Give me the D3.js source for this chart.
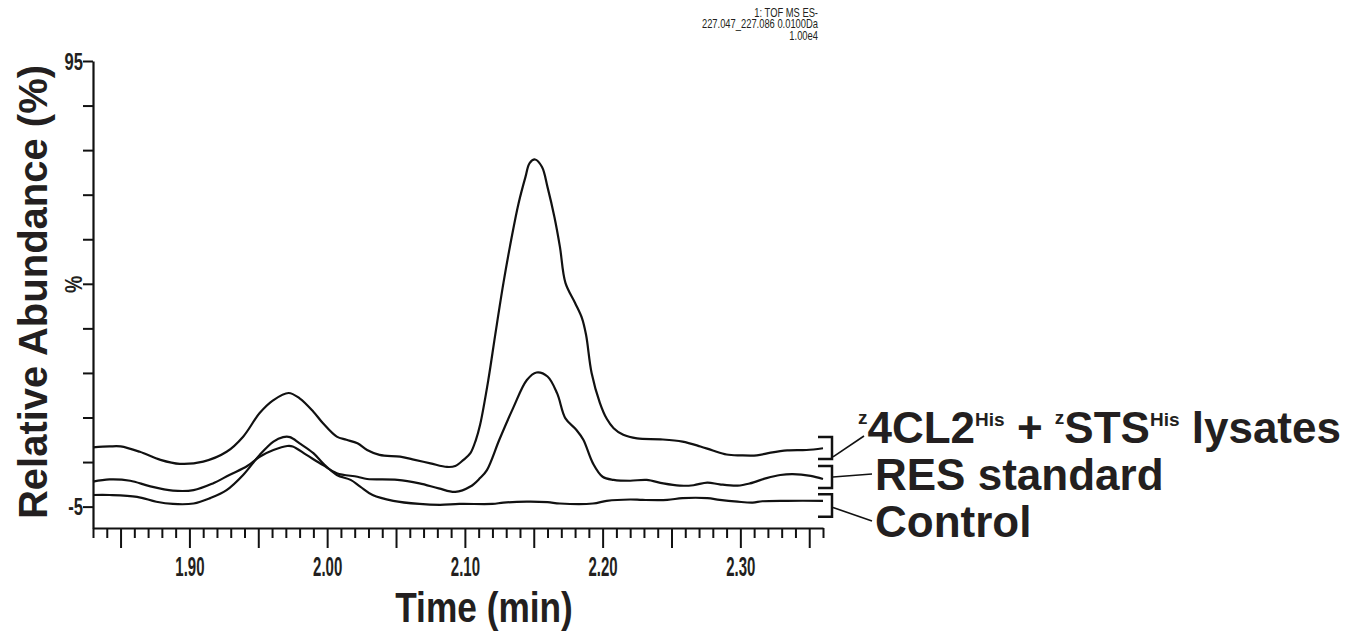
<!DOCTYPE html>
<html>
<head>
<meta charset="utf-8">
<script src="https://cdn.jsdelivr.net/npm/d3@7"></script>
<style>
  body { margin: 0; background: #fff; }
  svg { display: block; }
  text { font-family: "Liberation Sans", Arial, sans-serif; fill: #231f20; }
</style>
</head>
<body>
<svg id="chart"></svg>
<script>
// header printed by the instrument software
const headerLines = ["1: TOF MS ES-", "227.047_227.086 0.0100Da", "1.00e4"];

// axis ticks
const yTickValues = [-5, 5, 15, 25, 35, 45, 55, 65, 75, 85, 95];
const yTickLabels = { "-5": "-5", "45": "%", "95": "95" };
const xLabelTicks = [1.90, 2.00, 2.10, 2.20, 2.30];

// zSTS + z4CL2 lysates trace
const lysatesTime = [1.830,1.842,1.850,1.864,1.879,1.893,1.910,1.927,1.939,1.951,1.961,1.972,1.980,1.990,1.997,2.007,2.014,2.022,2.029,2.038,2.053,2.062,2.075,2.087,2.093,2.099,2.104,2.108,2.111,2.117,2.122,2.128,2.134,2.139,2.144,2.147,2.151,2.156,2.160,2.165,2.169,2.173,2.180,2.185,2.188,2.192,2.198,2.203,2.208,2.215,2.225,2.242,2.258,2.271,2.280,2.290,2.300,2.312,2.322,2.334,2.348,2.360];
const lysatesAbund = [8.3,8.5,8.5,7.3,5.5,4.6,5.1,7.3,10.7,16.0,18.9,20.5,19.3,16.3,13.7,10.7,10.0,9.2,7.7,6.6,6.2,5.6,4.7,3.9,4.1,5.5,7.0,10.0,13.3,23.4,33.5,45.2,55.5,63.1,69.0,72.1,72.9,71.2,66.7,60.0,53.3,45.2,40.7,37.3,33.5,25.0,18.3,14.7,12.6,11.1,10.3,10.1,9.6,8.5,7.6,6.7,6.5,6.5,7.1,7.6,7.7,8.1];

// RES standard trace
const resTime = [1.830,1.842,1.857,1.871,1.888,1.903,1.917,1.929,1.942,1.951,1.961,1.971,1.975,1.985,1.997,2.007,2.022,2.029,2.051,2.067,2.081,2.093,2.104,2.111,2.116,2.125,2.135,2.145,2.152,2.160,2.167,2.173,2.181,2.186,2.193,2.200,2.208,2.220,2.232,2.244,2.256,2.266,2.276,2.285,2.298,2.307,2.319,2.329,2.338,2.351,2.360];
const resAbund = [0.6,1.1,0.8,-0.4,-1.4,-1.3,0.2,2.1,4.1,6.2,7.7,8.6,8.5,6.6,4.3,2.5,1.7,1.2,1.0,0.2,-0.9,-1.7,-0.5,1.4,3.2,10.0,17.1,23.4,25.1,24.2,20.4,14.8,12.2,10.0,4.7,1.7,1.0,0.8,1.0,0.2,-0.3,-0.2,0.4,0.0,-0.3,0.2,1.4,2.1,2.3,1.9,1.2];

// Control trace
const controlTime = [1.830,1.842,1.862,1.876,1.888,1.903,1.915,1.927,1.939,1.951,1.961,1.968,1.973,1.980,1.990,1.997,2.007,2.017,2.024,2.033,2.048,2.067,2.082,2.096,2.120,2.128,2.145,2.160,2.169,2.193,2.203,2.220,2.229,2.247,2.258,2.276,2.285,2.298,2.309,2.316,2.334,2.360];
const controlAbund = [-2.4,-2.4,-2.8,-3.9,-4.4,-4.3,-3.1,-1.3,2.1,6.6,9.6,10.6,10.6,9.2,7.0,4.7,2.1,1.0,-0.5,-2.4,-3.7,-4.4,-4.6,-4.4,-4.4,-4.1,-3.9,-4.0,-4.3,-4.3,-3.7,-3.4,-3.5,-3.5,-3.1,-3.1,-3.5,-3.9,-4.1,-3.8,-3.7,-3.7];

// bracket extent of each trace label, in abundance units (top, bottom)
const bracketRanges = [[10.6, 5.7], [4.1, -0.8], [-2.2, -7.3]];

const width = 1351, height = 637;
const svg = d3.select("#chart").attr("width", width).attr("height", height);

const x = d3.scaleLinear().domain([1.83, 2.36]).range([93, 823]);
const y = d3.scaleLinear().domain([-9.8, 95]).range([528, 61]);

// x axis: ticks every 0.01, longer every 0.05, labels every 0.1
const xTicks = d3.range(183, 237).map(i => i / 100);
const xAxis = svg.append("g")
  .attr("transform", `translate(0,${y.range()[0]})`)
  .call(d3.axisBottom(x)
    .tickValues(xTicks)
    .tickSize(10)
    .tickSizeOuter(0)
    .tickFormat(d => xLabelTicks.some(v => Math.abs(v - d) < 1e-6) ? d3.format(".2f")(d) : ""));
xAxis.select(".domain").attr("stroke", "#111").attr("stroke-width", 2.2);
xAxis.selectAll(".tick line")
  .attr("stroke", "#111").attr("stroke-width", 2)
  .attr("y2", d => Math.round(d * 100) % 5 === 0 ? 20 : 10);
xAxis.selectAll(".tick text")
  .attr("y", 0).attr("dy", 0)
  .attr("transform", "translate(0,48) scale(0.6,1.1)")
  .style("font-size", "25px").style("font-weight", "bold")
  .style("fill", "#231f20");

// y axis
const yAxis = svg.append("g")
  .attr("transform", `translate(${x.range()[0]},0)`)
  .call(d3.axisLeft(y)
    .tickValues(yTickValues)
    .tickSize(10)
    .tickSizeOuter(0)
    .tickFormat(d => yTickLabels[d] || ""));
yAxis.select(".domain").attr("stroke", "#111").attr("stroke-width", 2.2);
yAxis.selectAll(".tick line").attr("stroke", "#111").attr("stroke-width", 2);
yAxis.selectAll(".tick text")
  .attr("x", 0).attr("dy", 0)
  .style("font-weight", "bold").style("fill", "#231f20")
  .each(function(d) {
    const t = d3.select(this);
    if (d === 45) {
      t.attr("text-anchor", "middle")
        .attr("transform", "translate(-11,0) rotate(-90) scale(0.85,1)")
        .style("font-size", "23px");
    } else {
      t.attr("text-anchor", "end")
        .attr("transform", "translate(-10,8) scale(0.72,1.05)")
        .style("font-size", "23px");
    }
  });

// traces
const line = d3.line()
  .x(d => x(d[0]))
  .y(d => y(d[1]))
  .curve(d3.curveCatmullRom.alpha(0.5));

const traces = [
  d3.zip(lysatesTime, lysatesAbund),
  d3.zip(resTime, resAbund),
  d3.zip(controlTime, controlAbund)
];

svg.append("g").selectAll("path")
  .data(traces)
  .join("path")
  .attr("d", line)
  .attr("fill", "none")
  .attr("stroke", "#111")
  .attr("stroke-width", 2.2)
  .attr("stroke-linejoin", "round");

// brackets and connectors
const bx0 = 818, bx1 = 832;
const textBaselines = [443, 490, 537];
const connectorEnds = [[864, 436], [872, 474], [872, 521]];
const legend = svg.append("g");
bracketRanges.forEach((r, i) => {
  const top = y(r[0]), bot = y(r[1]);
  legend.append("path")
    .attr("d", `M${bx0},${top}H${bx1}V${bot}H${bx0}`)
    .attr("fill", "none").attr("stroke", "#111").attr("stroke-width", 2.5);
  legend.append("line")
    .attr("x1", bx1 + 1).attr("y1", i === 0 ? bot - 2 : (top + bot) / 2 + (i === 2 ? 2 : 0))
    .attr("x2", connectorEnds[i][0]).attr("y2", connectorEnds[i][1])
    .attr("stroke", "#111").attr("stroke-width", 1.6);
});

// labels
const lab = svg.append("g").style("font-weight", "bold").style("font-size", "44px");
const l1 = lab.append("text").attr("x", 858).attr("y", textBaselines[0]);
[["z", 19, -19], ["4CL2", 44, 19], ["His", 19, -17], [" + ", 44, 17],
 ["z", 19, -19], ["STS", 44, 19], ["His", 19, -17], [" lysates", 44, 17]]
  .forEach(([s, fs, dy]) => {
    l1.append("tspan").text(s).attr("dy", dy).style("font-size", fs + "px");
  });
lab.append("text").attr("x", 875).attr("y", textBaselines[1]).text("RES standard");
lab.append("text").attr("x", 875).attr("y", textBaselines[2]).text("Control");

// axis titles
svg.append("text")
  .attr("transform", "translate(47,292) rotate(-90)")
  .attr("text-anchor", "middle")
  .style("font-size", "40px").style("font-weight", "bold")
  .text("Relative Abundance (%)");

svg.append("text")
  .attr("transform", "translate(484,622) scale(0.82,1)")
  .attr("text-anchor", "middle")
  .style("font-size", "43px").style("font-weight", "bold")
  .text("Time (min)");

// header text, top right, as one block
const header = svg.append("text")
  .attr("text-anchor", "end")
  .attr("transform", "translate(818,17) scale(0.75,1)")
  .style("font-size", "12.5px");
header.selectAll("tspan")
  .data(headerLines)
  .join("tspan")
  .attr("x", 0)
  .attr("dy", (d, i) => i === 0 ? 0 : 11.5)
  .text(d => d);
</script>
</body>
</html>
